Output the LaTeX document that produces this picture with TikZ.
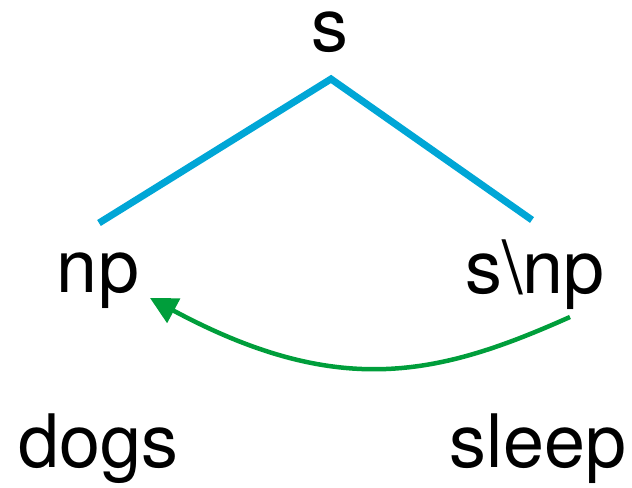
\documentclass[tikz,border=0pt]{standalone}
\usepackage{fontspec}
\setmainfont{TeX Gyre Heros}
\usetikzlibrary{arrows.meta}
\definecolor{treeblue}{RGB}{0,166,214}
\definecolor{arrowgreen}{RGB}{0,158,59}
\tikzset{
  lbl/.style={anchor=base, inner sep=0pt, font=\fontsize{74}{80}\selectfont},
  branch/.style={draw=treeblue, line width=7bp},
  dep/.style={draw=arrowgreen, line width=4.5bp, -{Triangle[length=27bp,width=27bp]}}
}
\begin{document}
\begin{tikzpicture}[x=1bp,y=-1bp]
\useasboundingbox (0,0) rectangle (632,488);
\node[lbl] (s) at (330,52) {s};
\node[lbl] (np) at (98,292) {np};
\node[lbl] (snp) at (535,293) {s\textbackslash np};
\node[lbl] (dogs) at (98,467) {dogs};
\node[lbl] (sleep) at (538,467) {sleep};
\coordinate (apex) at (331,79);
\coordinate (lend) at (99,223);
\coordinate (rend) at (532,220);
\coordinate (astart) at (570,317);
\coordinate (atip) at (150,298);
\draw[branch] (lend) -- (apex) -- (rend);
\draw[dep] (astart) .. controls (440,375) and (340,400) .. (atip);
\end{tikzpicture}
\end{document}
